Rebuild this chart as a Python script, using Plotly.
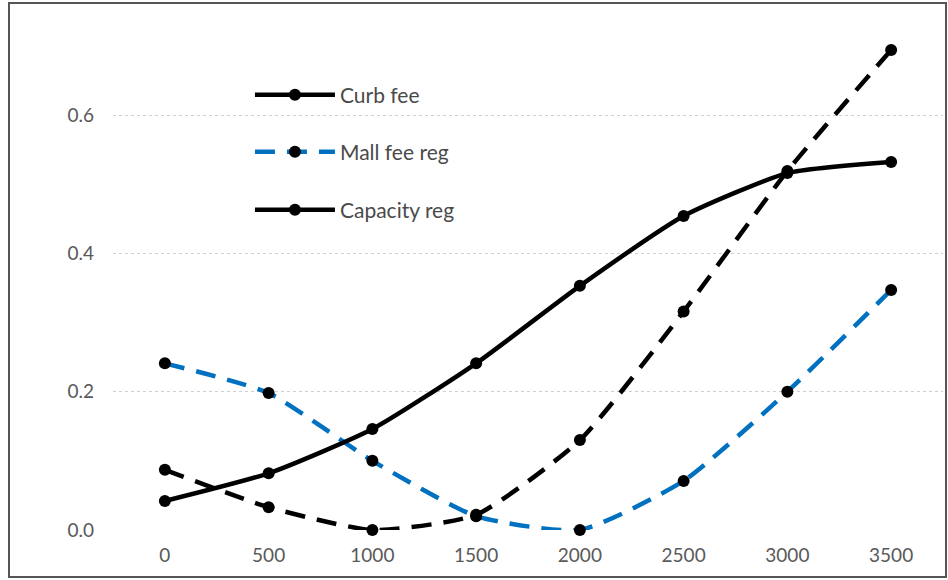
import plotly.graph_objects as go

# Distance categories and the three regulation scenarios
distance = [0, 500, 1000, 1500, 2000, 2500, 3000, 3500]
curb_fee = [0.042, 0.082, 0.146, 0.241, 0.353, 0.454, 0.516, 0.532]
mall_fee_reg = [0.241, 0.198, 0.100, 0.020, 0.000, 0.071, 0.200, 0.347]
capacity_reg = [0.087, 0.033, 0.000, 0.022, 0.130, 0.316, 0.519, 0.694]
y_ticks = [0.0, 0.2, 0.4, 0.6]

BLACK = "#000000"
BLUE = "#0070C0"
FONT = "Lato, 'Noto Sans', sans-serif"

fig = go.Figure()

marker = dict(symbol="circle", size=12, color=BLACK)
SMOOTH = 0.55

fig.add_trace(go.Scatter(
    x=distance, y=capacity_reg, name="Capacity reg", mode="lines+markers",
    line=dict(color=BLACK, width=4.5, dash="20px,12px", shape="spline", smoothing=SMOOTH),
    marker=marker, showlegend=False, cliponaxis=False,
))
fig.add_trace(go.Scatter(
    x=distance, y=mall_fee_reg, name="Mall fee reg", mode="lines+markers",
    line=dict(color=BLUE, width=4.5, dash="20px,12px", shape="spline", smoothing=SMOOTH),
    marker=marker, legend="legend2", cliponaxis=False,
))
fig.add_trace(go.Scatter(
    x=distance, y=curb_fee, name="Curb fee", mode="lines+markers",
    line=dict(color=BLACK, width=4.5, shape="spline", smoothing=SMOOTH),
    marker=marker, legend="legend", cliponaxis=False,
))
# Legend entry for the capacity scenario is shown with a solid key
fig.add_trace(go.Scatter(
    x=[None], y=[None], name="Capacity reg", mode="lines+markers",
    line=dict(color=BLACK, width=4.5), marker=marker, legend="legend3",
))

legend_common = dict(
    font=dict(family=FONT, size=21, color="#4a4a4a"),
    bgcolor="rgba(0,0,0,0)", itemwidth=80,
    xanchor="left", yanchor="middle", x=0.165,
)

fig.update_layout(
    width=948, height=580,
    margin=dict(l=113, r=5, t=32, b=50),
    paper_bgcolor="white", plot_bgcolor="white",
    font=dict(family=FONT, size=19, color="#595959"),
    legend=dict(legend_common, y=(530 - 95) / 498),
    legend2=dict(legend_common, y=(530 - 152) / 498),
    legend3=dict(legend_common, y=(530 - 210) / 498),
    xaxis=dict(
        range=[-250, 3750], tickvals=distance, ticktext=[str(d) for d in distance],
        showgrid=False, zeroline=False, showline=False, ticks="",
        ticklabelstandoff=12, tickfont=dict(size=19, color="#595959"),
    ),
    yaxis=dict(
        range=[0, 0.72], tickvals=y_ticks, ticktext=[f"{v:.1f}" for v in y_ticks],
        showgrid=True, gridcolor="#cfcfcf", griddash="dot", gridwidth=1,
        zeroline=False, showline=False, ticks="",
        ticklabelstandoff=18, tickfont=dict(size=19, color="#595959"),
    ),
    shapes=[dict(
        type="rect", xref="paper", yref="paper",
        x0=(9 - 113) / 830, x1=(946 - 113) / 830,
        y0=(530 - 577) / 498, y1=(530 - 3) / 498,
        line=dict(color="#555555", width=2), fillcolor="rgba(0,0,0,0)", layer="below",
    )],
)

fig.write_html("out.html")
